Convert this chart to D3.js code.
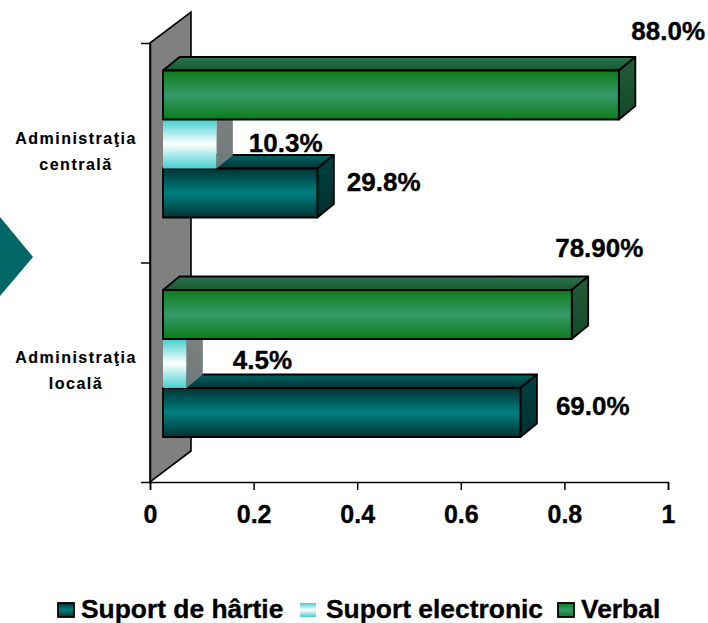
<!DOCTYPE html>
<html>
<head>
<meta charset="utf-8">
<script src="https://cdn.jsdelivr.net/npm/d3@7"></script>
<style>
  body { margin: 0; background: #fff; }
  text { font-family: "Liberation Sans", Arial, sans-serif; font-weight: bold; fill: #000; stroke: #000; stroke-width: 0.35px; }
</style>
</head>
<body>
<div id="chart"></div>
<script>
const categories = [["Administraţia", "centrală"], ["Administraţia", "locală"]];
const seriesNames = ["Verbal", "Suport electronic", "Suport de hârtie"];
const legendOrder = ["Suport de hârtie", "Suport electronic", "Verbal"];
const verbal = [0.88, 0.789];
const electronic = [0.103, 0.045];
const hartie = [0.298, 0.69];
const verbalLabels = ["88.0%", "78.90%"];
const electronicLabels = ["10.3%", "4.5%"];
const hartieLabels = ["29.8%", "69.0%"];
const xTicks = [0, 0.2, 0.4, 0.6, 0.8, 1];

const width = 708, height = 623;
const plot = { left: 150, right: 668, top: 43, bottom: 482 };
const wall = { dx: 41, dy: -31 };
const front = { dx: 13 };
const depth = { dx: 16.5, dy: -13.5 };

// label nudges from the end of each bar, same order as the series
const labelNudge = {
    "Verbal": [{ x: -4, y: -30.5 }, { x: -33, y: -33 }],
    "Suport electronic": [{ x: 16, y: 32.5 }, { x: 30, y: 30 }],
    "Suport de hârtie": [{ x: 13, y: 22 }, { x: 19, y: 27 }],
};

const looks = {
    "Verbal": { edge: "#0e7c1a", mid: "#369a69", top: ["#2c7250", "#14592e"], side: ["#245c3a", "#134a27"], stroke: "#000" },
    "Suport electronic": { edge: "#43cfcf", mid: "#ffffff", top: ["#808080", "#808080"], side: ["#808080", "#6f7a7a"], stroke: "none" },
    "Suport de hârtie": { edge: "#003333", mid: "#008080", top: ["#006464", "#003333"], side: ["#004242", "#003030"], stroke: "#000" },
};

const svg = d3.select("#chart").append("svg")
    .attr("width", width)
    .attr("height", height);

const defs = svg.append("defs");
function addGradient(id, stops) {
    const g = defs.append("linearGradient").attr("id", id).attr("x1", 0).attr("x2", 0).attr("y1", 0).attr("y2", 1);
    stops.forEach((c, i) => {
        g.append("stop").attr("offset", i / (stops.length - 1)).attr("stop-color", c);
    });
}
seriesNames.forEach((name, i) => {
    const look = looks[name];
    addGradient(`front${i}`, [look.edge, look.mid, look.edge]);
    addGradient(`top${i}`, look.top);
    addGradient(`side${i}`, look.side);
});

// arrow poking in from the left edge
svg.append("path")
    .attr("d", d3.line()([[0, 217], [33, 257], [0, 296]]))
    .attr("fill", "#006666");

const x = d3.scaleLinear().domain([0, 1]).range([plot.left, plot.right]);
const yTicks = d3.scaleLinear().domain([0, 2]).range([plot.bottom, plot.top]);
const y0 = d3.scaleBand().domain(d3.range(categories.length)).range([plot.top, plot.bottom]);
const y1 = d3.scaleBand().domain(seriesNames).range([27.5, 174.5]);

// back wall
svg.append("path")
    .attr("d", d3.line()([
        [x(0), plot.bottom],
        [x(0), plot.top],
        [x(0) + wall.dx, plot.top + wall.dy],
        [x(0) + wall.dx, plot.bottom + wall.dy],
    ]) + "Z")
    .attr("fill", "#808080")
    .attr("stroke", "#000")
    .attr("stroke-width", 1.6);

// axes
const xAxis = d3.axisBottom(x).tickValues(xTicks).tickFormat(d3.format("~g")).tickSize(8).tickPadding(15);
const gx = svg.append("g").attr("transform", `translate(0,${plot.bottom})`).call(xAxis);
gx.selectAll("text").attr("font-size", 25);
gx.selectAll("line, path").attr("stroke", "#000").attr("stroke-width", 1.5);

const yAxis = d3.axisLeft(yTicks).tickValues([0, 1, 2]).tickFormat("").tickSize(9).tickSizeOuter(0);
const gy = svg.append("g").attr("transform", `translate(${plot.left},0)`).call(yAxis);
gy.selectAll("line, path").attr("stroke", "#000").attr("stroke-width", 1.5);

// category labels
categories.forEach((lines, i) => {
    const cy = y0(i) + y0.bandwidth() / 2;
    svg.append("text")
        .attr("text-anchor", "middle")
        .attr("font-size", 16)
        .attr("letter-spacing", 1.5)
        .style("stroke-width", "0.15px")
        .selectAll("tspan").data(lines).join("tspan")
        .attr("x", 76)
        .attr("y", (d, j) => cy - 9 + j * 26)
        .text(d => d);
});

// bars, painted bottom up so each front face hides the top of the bar below
const seriesValues = { "Verbal": verbal, "Suport electronic": electronic, "Suport de hârtie": hartie };
const seriesLabels = { "Verbal": verbalLabels, "Suport electronic": electronicLabels, "Suport de hârtie": hartieLabels };
const w = v => x(v) - x(0);

categories.forEach((c, ci) => {
    seriesNames.slice().reverse().forEach(name => {
        const si = seriesNames.indexOf(name);
        const look = looks[name];
        const v = seriesValues[name][ci];
        const x0 = x(0) + front.dx;
        const x1 = x0 + w(v);
        const yt = y0(ci) + y1(name);
        const yb = yt + y1.bandwidth();
        const line = d3.line();
        const g = svg.append("g").attr("stroke", look.stroke).attr("stroke-width", 1.8).attr("stroke-linejoin", "round");
        g.append("path")
            .attr("d", line([[x0, yt], [x0 + depth.dx, yt + depth.dy], [x1 + depth.dx, yt + depth.dy], [x1, yt]]) + "Z")
            .attr("fill", `url(#top${si})`);
        g.append("path")
            .attr("d", line([[x1, yt], [x1 + depth.dx, yt + depth.dy], [x1 + depth.dx, yb + depth.dy], [x1, yb]]) + "Z")
            .attr("fill", `url(#side${si})`);
        g.append("rect")
            .attr("x", x0)
            .attr("y", yt)
            .attr("width", w(v))
            .attr("height", yb - yt)
            .attr("fill", `url(#front${si})`);
    });
});

// value labels on top of everything
categories.forEach((c, ci) => {
    seriesNames.forEach(name => {
        const nudge = labelNudge[name][ci];
        const x1 = x(0) + front.dx + w(seriesValues[name][ci]) + depth.dx;
        svg.append("text")
            .attr("x", x1 + nudge.x)
            .attr("y", y0(ci) + y1(name) + nudge.y)
            .attr("font-size", 26)
            .text(seriesLabels[name][ci]);
    });
});

// legend
const legendSwatchX = [58, 300, 558];
const legendTextX = [81, 326, 581];
legendOrder.forEach((name, i) => {
    const si = seriesNames.indexOf(name);
    svg.append("rect")
        .attr("x", legendSwatchX[i])
        .attr("y", 603)
        .attr("width", 16)
        .attr("height", 14)
        .attr("fill", `url(#front${si})`)
        .attr("stroke", looks[name].stroke)
        .attr("stroke-width", 1.8);
    svg.append("text")
        .attr("x", legendTextX[i])
        .attr("y", 618)
        .attr("font-size", 26.4)
        .text(name);
});
</script>
</body>
</html>
